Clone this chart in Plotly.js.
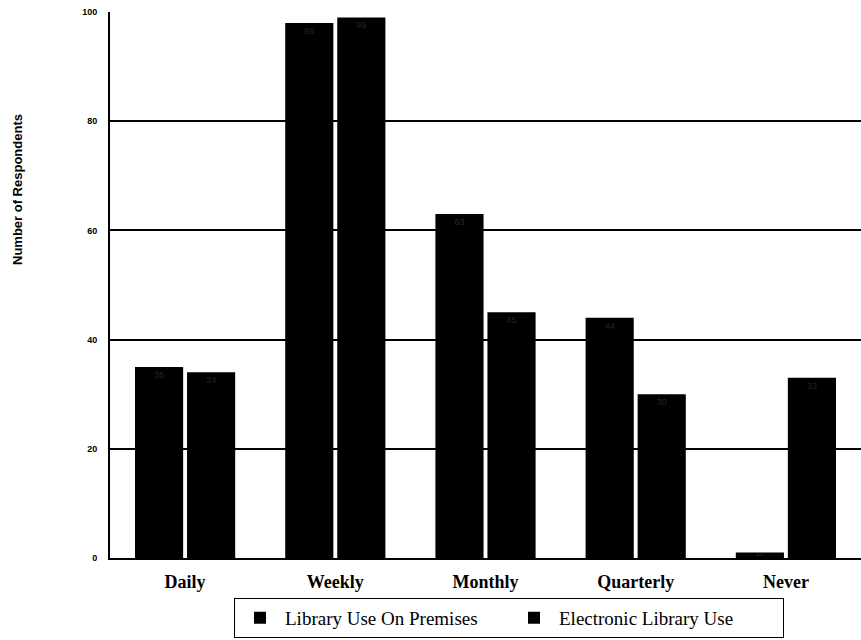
<!DOCTYPE html>
<html>
<head>
<meta charset="utf-8">
<script src="https://cdn.plot.ly/plotly-3.0.1.min.js"></script>
<style>html,body{margin:0;padding:0;background:#fff;}#chart{width:861px;height:640px;}</style>
</head>
<body>
<div id="chart"></div>
<script>
const categories = ['Daily', 'Weekly', 'Monthly', 'Quarterly', 'Never'];
const premisesValues = [35, 98, 63, 44, 1];
const electronicValues = [34, 99, 45, 30, 33];
const seriesNames = ['Library Use On Premises', 'Electronic Library Use'];
const yTicks = [0, 20, 40, 60, 80, 100];

const serif = 'Liberation Serif, Times New Roman, serif';
const sans = 'Liberation Sans, Arial, sans-serif';
const barText = {family: sans, size: 9, color: '#262626'};
const serifName = s => '<span style="font-family:Liberation Serif,serif">' + s + '</span>';

const traces = [
  {type: 'bar', name: serifName(seriesNames[0]), x: categories, y: premisesValues,
   text: premisesValues.map(String), textposition: 'inside', insidetextanchor: 'end',
   textfont: barText, marker: {color: '#000', line: {width: 0}}, hoverinfo: 'y'},
  {type: 'bar', name: serifName(seriesNames[1]), x: categories, y: electronicValues,
   text: electronicValues.map(String), textposition: 'inside', insidetextanchor: 'end',
   textfont: barText, marker: {color: '#000', line: {width: 0}}, hoverinfo: 'y'}
];

const layout = {
  width: 861, height: 640,
  font: {family: serif, size: 18, color: '#000'},
  margin: {l: 110, r: 0, t: 12, b: 82},
  paper_bgcolor: '#fff', plot_bgcolor: '#fff',
  barmode: 'group', bargap: 0.307, bargroupgap: 0.075,
  showlegend: true,
  legend: {
    orientation: 'h', x: (234 - 110) / 751, xanchor: 'left', y: -0.073, yanchor: 'top',
    bordercolor: '#000', borderwidth: 1, bgcolor: '#fff',
    font: {family: serif, size: 19, color: '#000'},
    itemwidth: 40, traceorder: 'normal',
    entrywidth: 219, entrywidthmode: 'pixels'
  },
  xaxis: {
    type: 'category', range: [-0.5, 4.5],
    showline: true, linecolor: '#000', linewidth: 2, mirror: false,
    showgrid: false, ticks: '', zeroline: false,
    tickfont: {family: serif, size: 18, color: '#000', weight: 'bold'},
    ticklabelstandoff: 6, fixedrange: true
  },
  yaxis: {
    range: [0, 100], tickvals: yTicks, ticktext: yTicks.map(String),
    showline: true, linecolor: '#000', linewidth: 2,
    showgrid: true, gridcolor: '#000', gridwidth: 2, zeroline: false, ticks: '',
    tickfont: {family: sans, size: 9, color: '#000', weight: 'bold'},
    ticklabelstandoff: 9, fixedrange: true
  },
  annotations: [{
    text: 'Number of Respondents', xref: 'paper', yref: 'paper',
    x: (18 - 110) / 751, y: (558 - 190) / 546, xanchor: 'center', yanchor: 'middle',
    textangle: -90, showarrow: false,
    font: {family: sans, size: 13, color: '#000', weight: 'bold'}
  }]
};

Plotly.newPlot('chart', traces, layout, {displayModeBar: false, staticPlot: true});
</script>
</body>
</html>
